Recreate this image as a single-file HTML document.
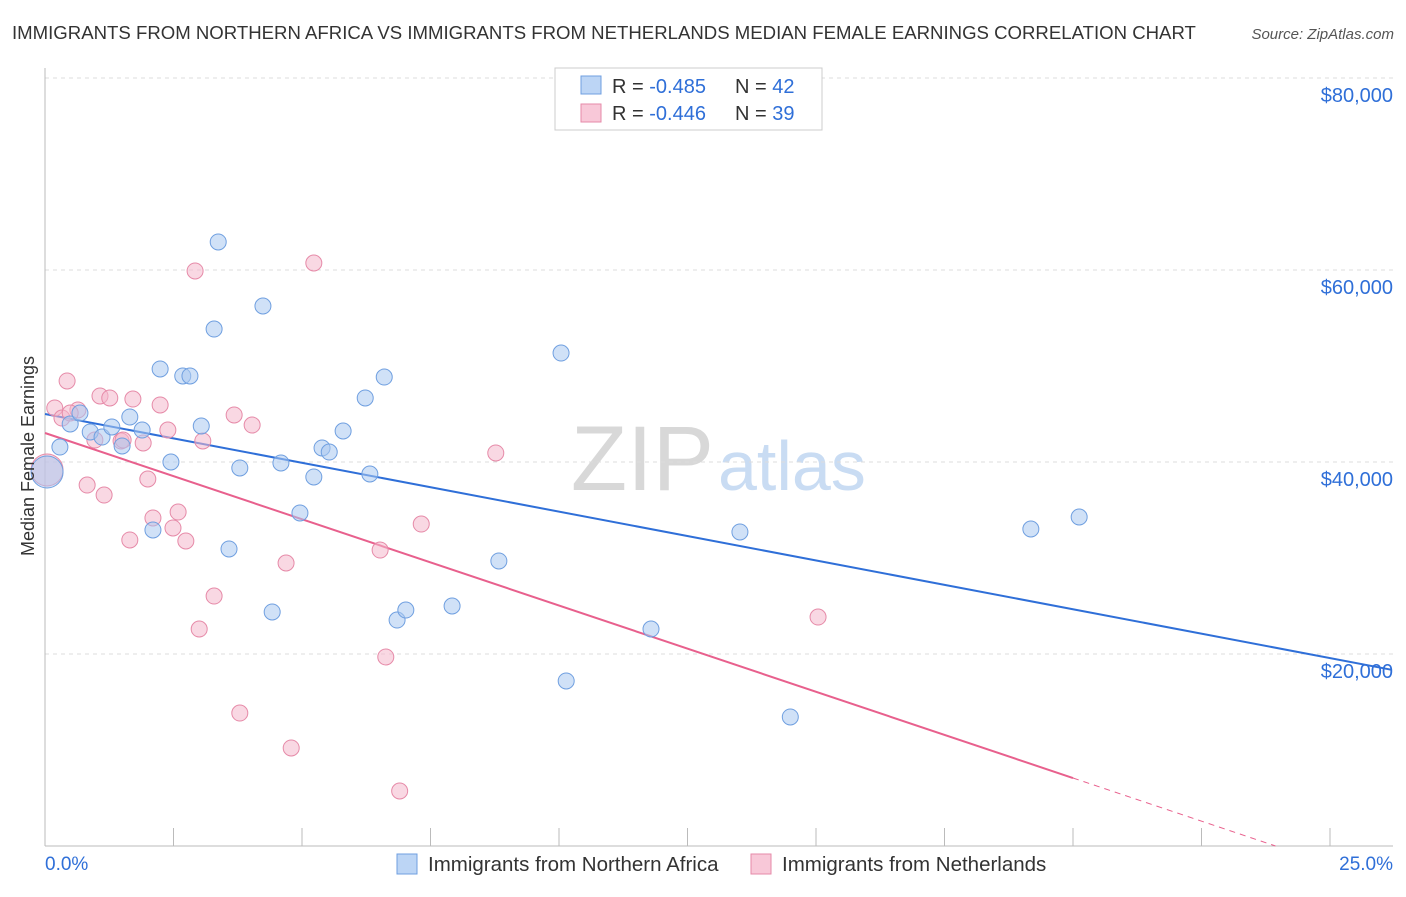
<!DOCTYPE html>
<html><head><meta charset="utf-8">
<style>
body{margin:0;background:#fff;font-family:"Liberation Sans",sans-serif;}
svg text{font-family:"Liberation Sans",sans-serif;}
</style></head>
<body>
<svg id="chart" width="1406" height="892">
<text x="12" y="39" font-size="18.6" fill="#333">IMMIGRANTS FROM NORTHERN AFRICA VS IMMIGRANTS FROM NETHERLANDS MEDIAN FEMALE EARNINGS CORRELATION CHART</text>
<text x="1394" y="39" font-size="15" fill="#555" font-style="italic" text-anchor="end">Source: ZipAtlas.com</text>
<text x="714" y="490" font-size="92" fill="#d8d8d8" text-anchor="end" font-family="Liberation Serif">ZIP</text>
<text x="718" y="490" font-size="70" fill="#c9dcf3">atlas</text>
<g id="grid"></g>
<g id="axes"></g>
<g id="lines"></g>
<g id="points"></g>
<text x="34" y="456" font-size="18" fill="#333" text-anchor="middle" transform="rotate(-90 34 456)">Median Female Earnings</text>
<g>
<rect x="555" y="68" width="267" height="62" fill="#fff" stroke="#ccc"/>
<rect x="581" y="76" width="20" height="18" fill="#bcd5f5" stroke="#6f9fe0"/>
<text x="612" y="93" font-size="20" fill="#333">R = <tspan fill="#2f6fd8">-0.485</tspan></text>
<text x="735" y="93" font-size="20" fill="#333">N = <tspan fill="#2f6fd8">42</tspan></text>
<rect x="581" y="104" width="20" height="18" fill="#f8c8d8" stroke="#e68aa8"/>
<text x="612" y="120" font-size="20" fill="#333">R = <tspan fill="#2f6fd8">-0.446</tspan></text>
<text x="735" y="120" font-size="20" fill="#333">N = <tspan fill="#2f6fd8">39</tspan></text>
</g>
<g>
<rect x="397" y="854" width="20" height="20" fill="#bcd5f5" stroke="#6f9fe0"/>
<text x="428" y="871" font-size="20.5" fill="#333">Immigrants from Northern Africa</text>
<rect x="751" y="854" width="20" height="20" fill="#f8c8d8" stroke="#e68aa8"/>
<text x="782" y="871" font-size="20.5" fill="#333">Immigrants from Netherlands</text>
</g>
</svg>
<script>
const blueX=[0.04,0.29,0.49,0.68,0.88,1.11,1.30,1.50,1.65,1.89,2.10,2.24,2.45,2.68,2.82,3.04,3.29,3.37,3.58,3.79,4.24,4.42,4.59,4.96,5.23,5.39,5.53,5.80,6.23,6.32,6.60,6.85,7.02,7.92,8.83,10.04,10.14,11.79,13.52,14.50,19.18,20.12];
const blueY=[38960,41560,43960,45100,43130,42600,43650,41670,44690,43330,32920,49690,40000,48960,48960,43750,53850,62920,30940,39380,56250,24380,39900,34690,38440,41460,41040,43230,46670,38750,48850,23540,24580,25000,29690,51350,17190,22600,32710,13440,33020,34270];
const pinkX=[0.04,0.19,0.43,0.33,0.64,0.82,0.97,1.07,1.15,1.26,1.48,1.65,1.71,1.91,2.00,2.10,2.24,2.39,2.49,2.59,2.74,2.92,3.00,3.07,3.29,3.68,3.79,4.03,4.69,4.79,5.23,6.52,6.63,6.90,7.32,8.77,15.04,0.49,1.52];
const pinkY=[39170,45630,48440,44580,45420,37600,42290,46880,36560,46670,42190,31880,46560,41980,38230,34170,45940,43330,33130,34790,31770,59900,22600,42190,26040,44900,13850,43850,29480,10210,60730,30830,19690,5730,33540,40940,23850,45100,42290];
const yTicks=[20000,40000,60000,80000];
const yTickLabels=["$20,000","$40,000","$60,000","$80,000"];
const xTicks=[0,2.5,5,7.5,10,12.5,15,17.5,20,22.5,25];
const blueTrend=[45000,-1017];
const pinkTrend=[43020,-1797];

const NS="http://www.w3.org/2000/svg";
const X=v=>45+v*51.4;
const Y=v=>846-v*0.0096;
function mk(tag,attrs,parent){const e=document.createElementNS(NS,tag);for(const k in attrs)e.setAttribute(k,attrs[k]);document.getElementById(parent).appendChild(e);return e;}

yTicks.forEach((t,i)=>{
  const g=mk('line',{x1:45,x2:1393,y1:Y(t),y2:Y(t),stroke:'#ddd','stroke-dasharray':'4,4'},'grid');
  
  
  const l=mk('text',{x:1393,y:Y(t)+24,'font-size':20,fill:'#2f6fd8','text-anchor':'end'},'axes');
  l.textContent=yTickLabels[i];
  
  
});
const ya=mk('line',{x1:45,x2:45,y1:68,y2:846,stroke:'#bbb'},'axes');


const xa=mk('line',{x1:45,x2:1393,y1:846,y2:846,stroke:'#bbb'},'axes');


xTicks.forEach(t=>{
  const k=mk('line',{x1:X(t),x2:X(t),y1:828,y2:846,stroke:'#bbb'},'axes');
  
  
});
const x0=mk('text',{x:45,y:870,'font-size':19,fill:'#2f6fd8'},'axes');x0.textContent='0.0%';


const x1=mk('text',{x:1393,y:870,'font-size':19,fill:'#2f6fd8','text-anchor':'end'},'axes');x1.textContent='25.0%';



function pts(xs,ys,fill,stroke,name){
  xs.forEach((x,i)=>{
    const c=mk('circle',{cx:X(x),cy:Y(ys[i]),r:i===0?16:8,fill:fill,'fill-opacity':0.55,stroke:stroke,'stroke-width':1},'points');
    
    
  });
}
pts(pinkX,pinkY,'#f4b8cc','#e68aa8','point-netherlands');
pts(blueX,blueY,'#a9c8f0','#6f9fe0','point-northern-africa');

const bl=mk('line',{x1:X(0),y1:Y(blueTrend[0]),x2:X(26.2),y2:Y(blueTrend[0]+blueTrend[1]*26.2),stroke:'#2f6fd8','stroke-width':2},'lines');


const pl=mk('line',{x1:X(0),y1:Y(pinkTrend[0]),x2:X(20),y2:Y(pinkTrend[0]+pinkTrend[1]*20),stroke:'#e8608d','stroke-width':2},'lines');


const xEnd=-pinkTrend[0]/pinkTrend[1];
const pd=mk('line',{x1:X(20),y1:Y(pinkTrend[0]+pinkTrend[1]*20),x2:X(xEnd),y2:Y(0),stroke:'#e8608d','stroke-width':1,'stroke-dasharray':'6,5'},'lines');


</script>
</body></html>
